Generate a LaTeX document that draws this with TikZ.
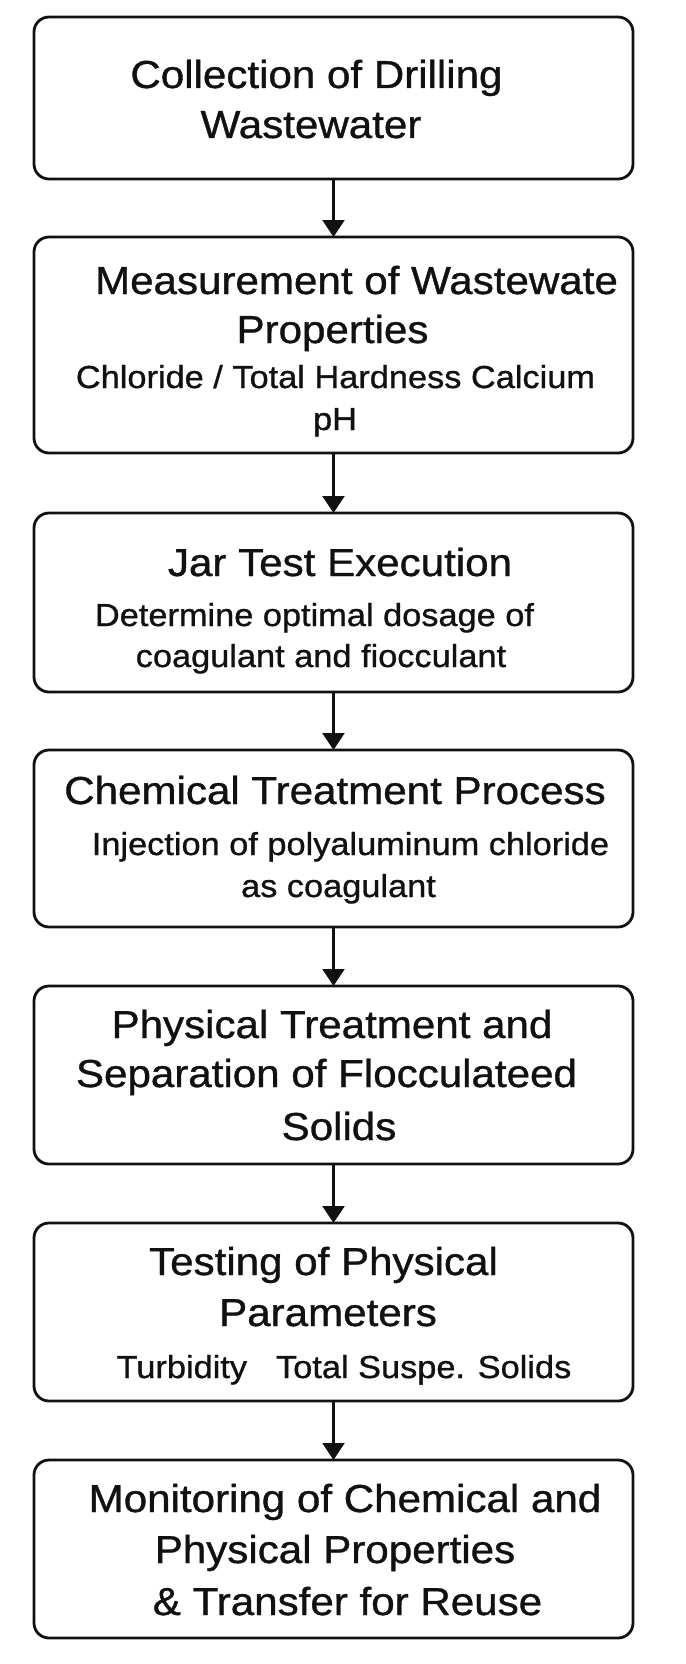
\documentclass[tikz,border=0pt]{standalone}
\usepackage{fontspec}
\setmainfont{Liberation Sans}[FakeStretch=1.08,FakeBold=0.9]
\usetikzlibrary{arrows.meta}
\definecolor{ink}{HTML}{111111}
\tikzset{
  box/.style={draw=ink, line width=2.8pt, rounded corners=15pt, minimum width=599pt, inner sep=0pt, outer sep=0pt, fill=white},
  ttl/.style={anchor=base, inner sep=0pt, font=\fontsize{39pt}{44pt}\selectfont, text=ink},
  sub/.style={anchor=base, inner sep=0pt, font=\fontsize{31.8pt}{36pt}\selectfont, text=ink},
  flow/.style={draw=ink, line width=2.4pt, -{Triangle[width=22pt,length=17pt]}}
}
\begin{document}
\begin{tikzpicture}[x=1pt,y=-1pt]
\useasboundingbox[fill=white] (0,0) rectangle (685,1664);
% boxes
\node[box, minimum height=162pt] (b1) at (333.5,98) {};
\node[box, minimum height=216pt] (b2) at (333.5,345) {};
\node[box, minimum height=179pt] (b3) at (333.5,602.5) {};
\node[box, minimum height=177pt] (b4) at (333.5,838.5) {};
\node[box, minimum height=178pt] (b5) at (333.5,1075) {};
\node[box, minimum height=178pt] (b6) at (333.5,1312) {};
\node[box, minimum height=178pt] (b7) at (333.5,1549) {};
% arrows
\draw[flow] (b1.south) -- (b2.north);
\draw[flow] (b2.south) -- (b3.north);
\draw[flow] (b3.south) -- (b4.north);
\draw[flow] (b4.south) -- (b5.north);
\draw[flow] (b5.south) -- (b6.north);
\draw[flow] (b6.south) -- (b7.north);
% box 1
\node[ttl] (t1a) at (316.5,88) {Collection of Drilling};
\node[ttl] (t1b) at (311,138) {Wastewater};
% box 2
\node[ttl] (t2a) at (356.5,294) {Measurement of Wastewate};
\node[ttl] (t2b) at (332.5,343) {Properties};
\node[sub] (t2c) at (335.5,388) {Chloride / Total Hardness Calcium};
\node[sub] (t2d) at (335,430) {pH};
% box 3
\node[ttl] (t3a) at (340,576) {Jar Test Execution};
\node[sub] (t3b) at (314.5,626) {Determine optimal dosage of};
\node[sub] (t3c) at (321,667) {coagulant and fiocculant};
% box 4
\node[ttl] (t4a) at (335,804) {Chemical Treatment Process};
\node[sub] (t4b) at (350.5,855) {Injection of polyaluminum chloride};
\node[sub] (t4c) at (338.5,897) {as coagulant};
% box 5
\node[ttl] (t5a) at (332,1038) {Physical Treatment and};
\node[ttl] (t5b) at (326.5,1087) {Separation of Flocculateed};
\node[ttl] (t5c) at (339,1140) {Solids};
% box 6
\node[ttl] (t6a) at (323.5,1275) {Testing of Physical};
\node[ttl] (t6b) at (328,1326) {Parameters};
\node[sub] (t6c) at (344,1378) {Turbidity\hspace{29pt}Total Suspe. Solids};
% box 7
\node[ttl] (t7a) at (345,1512) {Monitoring of Chemical and};
\node[ttl] (t7b) at (335,1563) {Physical Properties};
\node[ttl] (t7c) at (347.5,1615) {\& Transfer for Reuse};
\end{tikzpicture}
\end{document}
